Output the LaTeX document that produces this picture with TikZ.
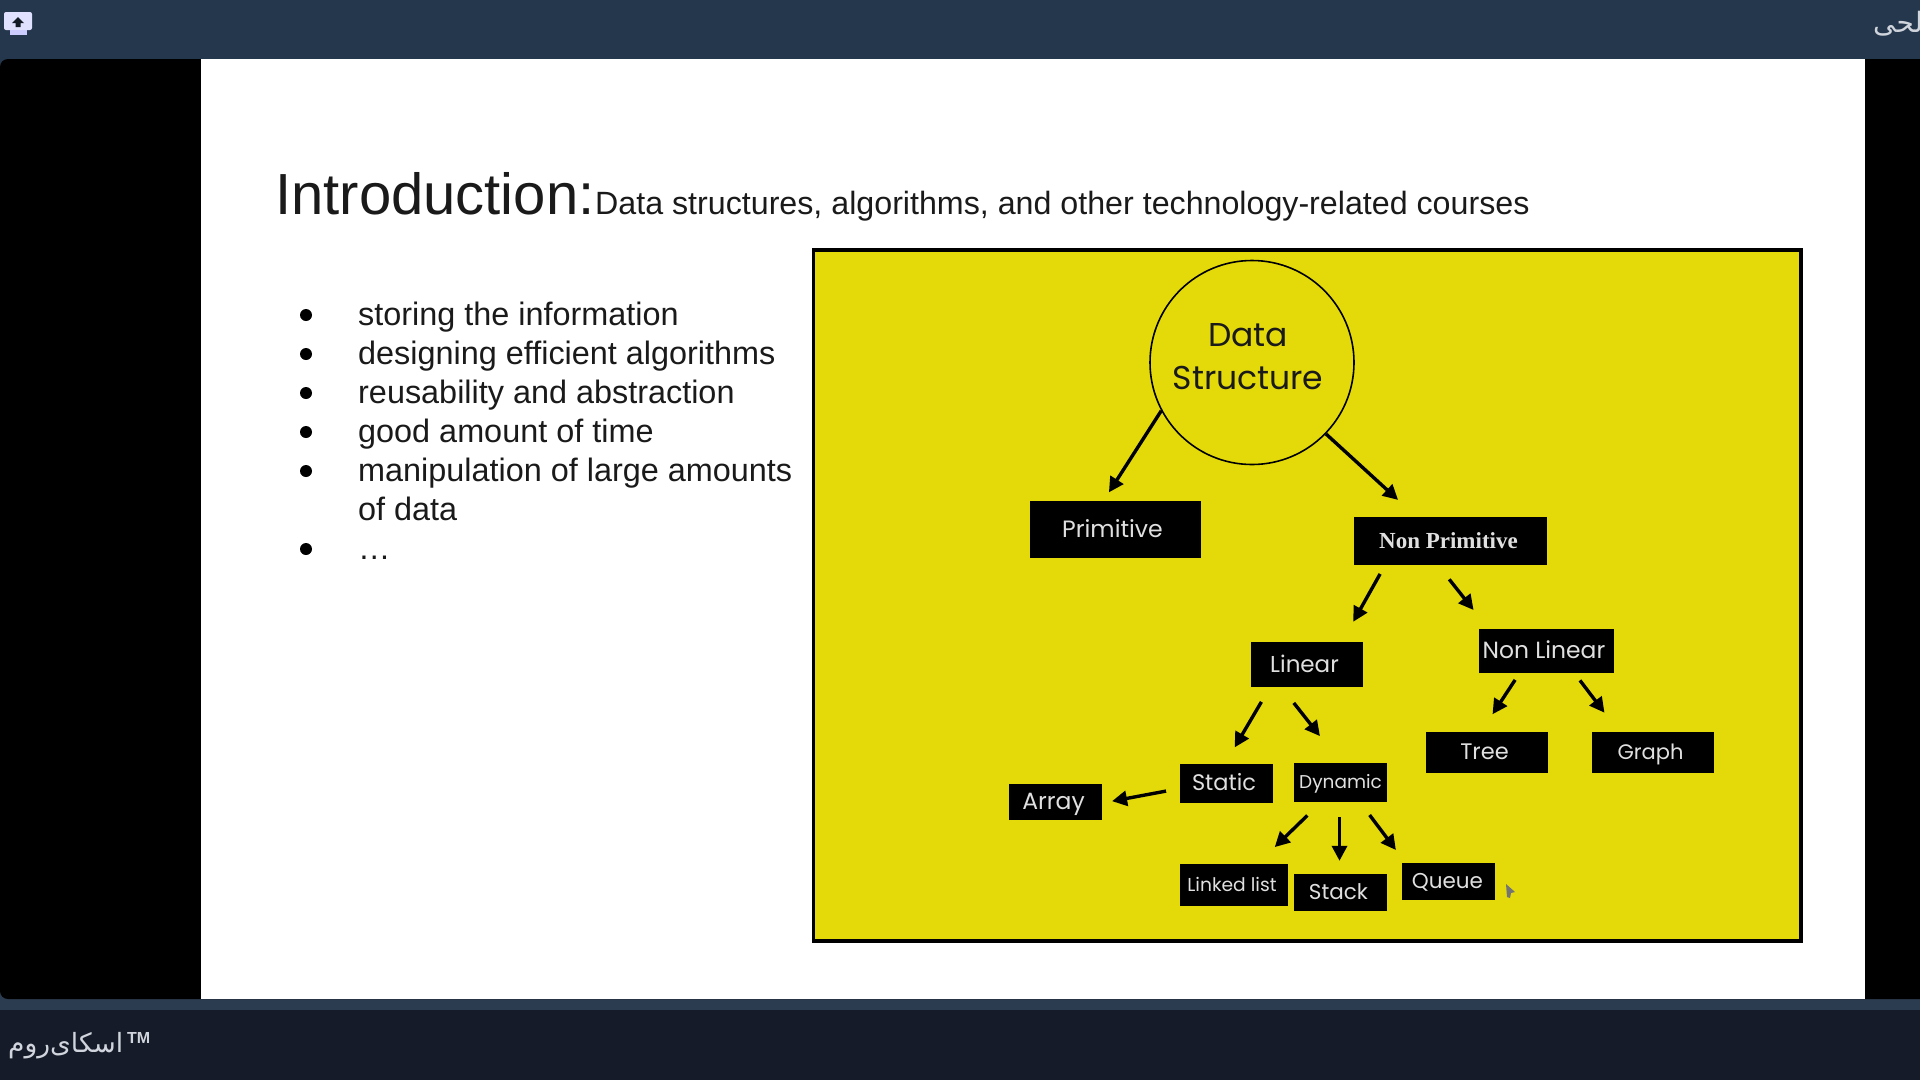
\documentclass[tikz,border=0pt]{standalone}
\usepackage{fontspec}
\setmainfont{Liberation Sans}
\newfontfamily\boxfont{Poppins}
\newfontfamily\npfont{Liberation Serif}
\newfontfamily\arabicfont[Script=Arabic]{DejaVu Sans}
\TeXXeTstate=1
\usetikzlibrary{arrows.meta}
\definecolor{topbar}{HTML}{25374C}
\definecolor{midbar}{HTML}{2C3C50}
\definecolor{botbar}{HTML}{161B29}
\definecolor{panel}{HTML}{E4DA0A}
\definecolor{boxtext}{HTML}{E0E0E0}
\definecolor{slidetext}{HTML}{1A1A1A}
\definecolor{bartext}{HTML}{D0D4DC}
\tikzset{
  bx/.style={fill=black,draw=none,text=boxtext,inner sep=0pt,text height=#1*0.78pt,text depth=#1*0.12pt,font=\boxfont\fontsize{#1}{#1}\selectfont},
  bx/.default=22,
  conn/.style={line width=3.4pt,draw=black,-{Triangle[length=15pt,width=15pt]}},
  bline/.style={anchor=base west,inner sep=0pt,text=slidetext,font=\fontsize{32.4}{32.4}\selectfont},
}
\newcommand{\bxat}[7][22]{\node[bx=#1,minimum width=#5pt-#3pt,minimum height=#6pt-#4pt] (#2) at ({(#3+#5)/2},{(#4+#6)/2}) {#7};}
\begin{document}
\begin{tikzpicture}[x=1pt,y=-1pt]
\useasboundingbox (0,0) rectangle (1920,1080);
% window frame
\fill[topbar] (0,0) rectangle (1920,59);
\fill[botbar] (0,1010) rectangle (1920,1080);
\fill[midbar] (0,990) rectangle (1920,1010);
\fill[topbar] (0,59) rectangle (20,100);
\fill[black,rounded corners=8pt] (0,59) rectangle (1960,999);
\fill[white] (201,59) rectangle (1865,999);
% screen-share icon
\fill[rounded corners=2pt,fill=white!88!blue] (4,12) rectangle (32,30);
\fill[fill=white!80!blue] (10,30) rectangle (27,35);
\fill[topbar!50!black] (18,17) -- (24,23) -- (20.5,23) -- (20.5,27) -- (15.5,27) -- (15.5,23) -- (12,23) -- cycle;
% top and bottom bar texts
\node[anchor=base west,inner sep=0pt,text=bartext,font=\arabicfont\fontsize{28}{28}\selectfont] (toptext) at (1873,32) {\beginR لحی\endR};
\node[anchor=base west,inner sep=0pt,text=bartext,font=\arabicfont\fontsize{26.5}{26.5}\selectfont] (brand) at (8,1052) {\beginR اسکای‌روم\endR};
\node[anchor=base west,inner sep=0pt,text=bartext,font=\bfseries\fontsize{16}{16}\selectfont] (tm) at (127,1043) {TM};
% title
\node[anchor=base west,inner sep=0pt,text=slidetext,font=\fontsize{58}{58}\selectfont] (title) at (275,214) {Introduction:};
\node[anchor=base west,inner sep=0pt,text=slidetext,font=\fontsize{32.2}{32.2}\selectfont] (subtitle) at (595,214) {Data structures, algorithms, and other technology-related courses};
% bullets
\node[bline] (b1) at (358,325) {storing the information};
\node[bline] (b2) at (358,364) {designing efficient algorithms};
\node[bline] (b3) at (358,403) {reusability and abstraction};
\node[bline] (b4) at (358,442) {good amount of time};
\node[bline] (b5) at (358,481) {manipulation of large amounts};
\node[bline] (b5b) at (358,520) {of data};
\node[bline] (b6) at (358,559) {…};
\foreach \yy in {315,354,393,432,471,549} \fill[black] (306,\yy) circle (6pt);
% panel
\fill[panel] (813,250) rectangle (1801,941);
\draw[black,line width=3.5pt] (813.5,250) rectangle (1801,941);
% nodes
\node[circle,draw=black,line width=1.6pt,fill=panel,minimum size=204pt,inner sep=0pt] (ds) at (1252,362.5) {};
\node[text=slidetext,font=\boxfont\fontsize{33}{33}\selectfont,inner sep=0pt] (dsa) at (1248,335) {Data};
\node[text=slidetext,font=\boxfont\fontsize{33}{33}\selectfont,inner sep=0pt] (dsb) at (1248,378) {Structure};
\bxat[23.6]{prim}{1030}{501}{1201}{558}{\hspace*{-6pt}Primitive}
\node[fill=black,text=boxtext,inner sep=0pt,minimum width=193pt,minimum height=48pt,font=\npfont\bfseries\fontsize{23}{23}\selectfont] (np) at (1450.5,541) {\hspace*{-4pt}Non Primitive};
\bxat[23]{lin}{1251}{642}{1363}{687}{\hspace*{-5pt}Linear}
\bxat[23.4]{nl}{1479}{629}{1614}{673}{\hspace*{-5pt}Non Linear}
\bxat[22.5]{tree}{1426}{732}{1548}{773}{\hspace*{-5pt}Tree}
\bxat[21]{graph}{1592}{732}{1714}{773}{\hspace*{-5pt}Graph}
\bxat[22.5]{stat}{1180}{764}{1273}{803}{\hspace*{-5pt}Static}
\bxat[18.5]{dyn}{1294}{763}{1387}{802}{Dynamic}
\bxat[23.5]{arr}{1009}{784}{1102}{820}{\hspace*{-4pt}Array}
\bxat[18.7]{ll}{1180}{864}{1288}{906}{\hspace*{-4pt}Linked list}
\bxat[21.5]{stk}{1294}{874}{1387}{911}{\hspace*{-4pt}Stack}
\bxat[21.5]{que}{1402}{863}{1495}{900}{\hspace*{-2pt}Queue}
% connectors
\draw[conn,shorten >=10pt] (ds.208.7) -- ([xshift=-12pt]prim.north);
\draw[conn,shorten >=25pt] (ds.-44.4) -- ([xshift=-34pt]np.north);
\draw[conn,shorten <=10pt,shorten >=23pt] ([xshift=-65.5pt]np.south) -- ([xshift=35pt]lin.north);
\draw[conn,shorten <=18pt,shorten >=24pt] ([xshift=-12.5pt]np.south) -- ([xshift=-58pt]nl.north);
\draw[conn,shorten <=17pt,shorten >=19pt] ([xshift=-37pt]lin.south) -- ([xshift=-1.5pt]stat.north);
\draw[conn,shorten <=20pt,shorten >=34pt] ([xshift=-25.6pt]lin.south) -- ([xshift=0.5pt]dyn.north);
\draw[conn,shorten <=8pt,shorten >=21pt] ([xshift=-27pt]nl.south) -- ([xshift=-6pt]tree.north);
\draw[conn,shorten <=9pt,shorten >=24pt] ([xshift=28pt]nl.south) -- ([xshift=-34pt]graph.north);
\draw[conn,shorten <=14pt,shorten >=10pt] ([yshift=-5pt]stat.west) -- ([yshift=-1pt]arr.east);
\draw[conn,shorten <=19pt,shorten >=24pt] ([xshift=-19.5pt]dyn.south) -- ([xshift=23.5pt]ll.north);
\draw[conn,shorten <=15pt,shorten >=13pt] ([xshift=-1pt]dyn.south) -- ([xshift=-1pt]stk.north);
\draw[conn,shorten <=16pt,shorten >=16pt] ([xshift=19.5pt]dyn.south) -- ([xshift=-43pt]que.north);
% mouse cursor
\fill[black!55] (1506,884) -- (1515,892) -- (1511,893) -- (1510,898) -- (1507,897) -- cycle;
\end{tikzpicture}
\end{document}
